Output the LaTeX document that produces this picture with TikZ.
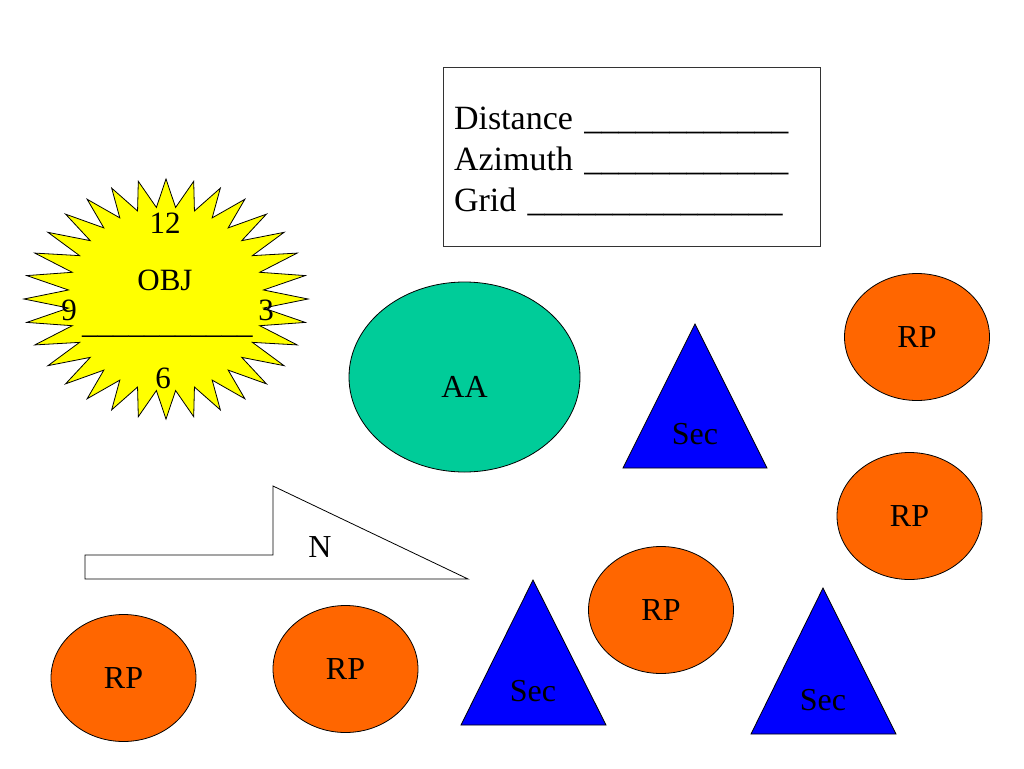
\documentclass[tikz,border=0pt]{standalone}
\usepackage{fontspec}
\setmainfont{Liberation Serif}
\usepackage{tikz}
\usetikzlibrary{shapes.geometric}

\definecolor{sunyellow}{HTML}{FFFF00}
\definecolor{aagreen}{HTML}{00CC99}
\definecolor{rporange}{HTML}{FF6600}
\definecolor{secblue}{HTML}{0000FF}

\begin{document}
\begin{tikzpicture}[x=1pt, y=-1pt,
  lab/.style={font=\fontsize{#1}{#1}\selectfont, inner sep=0pt},
  lab/.default=32,
  blob/.style={ellipse, draw=black, line width=0.8pt, fill=#1, inner sep=0pt,
    minimum width=145pt, minimum height=127pt, font=\fontsize{32}{38}\selectfont},
  tri/.style={draw=black, line width=0.8pt, fill=secblue, line join=miter},
  form/.style={rectangle, draw=black!80, line width=0.8pt, inner xsep=11pt,
    minimum width=377pt, minimum height=179pt, text width=355pt, align=left,
    text height=24pt, text depth=79pt, font=\fontsize{34}{41}\selectfont}]
  \useasboundingbox (0,0) rectangle (1024,768);

  % objective
  \coordinate (obj) at (166,299);
  \begin{scope}[shift={(obj)}]
    \draw[fill=sunyellow, line width=0.8pt] (0:142 and 120)
      \foreach \i in {0,...,31}{ -- (\i*11.25+5.625:98 and 92) -- (\i*11.25+11.25:142 and 120)} -- cycle;
  \end{scope}
  \node[lab=31] (hr12) at (165,223) {12};
  \node[lab=31] (objlab) at (165,280) {OBJ};
  \node[lab=31] (hr9) at (69,310) {9};
  \node[lab=31] (hr3) at (266,310) {3};
  \node[lab=31, anchor=base west] (objline) at (82,333) {\_\_\_\_\_\_\_\_\_\_\_};
  \node[lab=31] (hr6) at (163,378) {6};

  % data card
  \node[form] (card) at (631.5,156.5) {Distance \_\_\_\_\_\_\_\_\_\_\_\_\\Azimuth \_\_\_\_\_\_\_\_\_\_\_\_\\Grid \_\_\_\_\_\_\_\_\_\_\_\_\_\_\_};

  % assault area and rally points
  \node[blob=aagreen, minimum width=231pt, minimum height=190pt, text height=41pt, text depth=0pt] (aa) at (464.5,377) {AA};
  \node[blob=rporange] (rp1) at (917,337) {RP};
  \node[blob=rporange] (rp2) at (909.5,516) {RP};
  \node[blob=rporange] (rp3) at (661,610) {RP};
  \node[blob=rporange] (rp4) at (123.5,678) {RP};
  \node[blob=rporange] (rp5) at (345.5,669) {RP};

  % security
  \draw[tri] (695,324) -- (767,468) -- (623,468) -- cycle;
  \node[lab] (sec1) at (695,434) {Sec};
  \draw[tri] (533,580) -- (606,725) -- (461,725) -- cycle;
  \node[lab] (sec2) at (533,691) {Sec};
  \draw[tri] (823,588) -- (896,734) -- (751,734) -- cycle;
  \node[lab] (sec3) at (823,700) {Sec};

  % north arrow
  \draw[fill=white, line width=0.8pt] (85,579) -- (85,555) -- (273,555) -- (273,486) -- (468,579) -- cycle;
  \node[lab] (north) at (320,547) {N};
\end{tikzpicture}
\end{document}
